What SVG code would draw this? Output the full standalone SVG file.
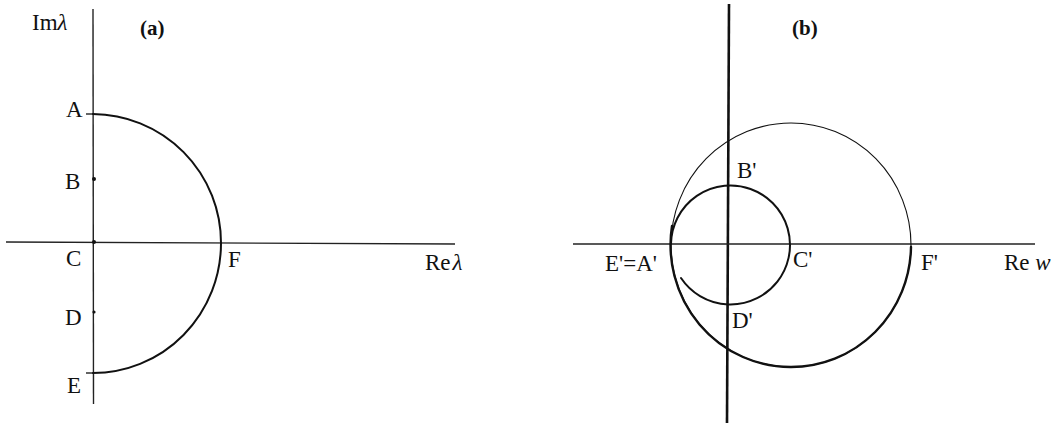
<svg xmlns="http://www.w3.org/2000/svg" width="1058" height="427" viewBox="0 0 1058 427">
<style>
.t{font-family:"Liberation Serif","Times New Roman",serif;font-size:23px;fill:#111}
.b{font-family:"Liberation Serif","Times New Roman",serif;font-size:21px;font-weight:bold;fill:#111}
.i{font-style:italic}
.ax{stroke:#222;stroke-width:1.4;fill:none}
.cv{stroke:#111;fill:none;stroke-linecap:round}
</style>
<rect width="1058" height="427" fill="#fff"/>
<g id="panel-a">
<g id="axes-a">
<line class="ax" x1="93" y1="9" x2="93.5" y2="404"/>
<line class="ax" x1="6" y1="242" x2="455" y2="244"/>
<line class="ax" x1="86" y1="114" x2="93" y2="114"/>
<line class="ax" x1="86" y1="373" x2="93" y2="373"/>
</g>
<g id="connectors-a">
<path class="cv" stroke-width="2" d="M93 114 A129 129 0 0 1 221 243 A128 130 0 0 1 93 373"/>
</g>
<g id="points-a" fill="#111">
<circle cx="94" cy="179" r="2"/>
<circle cx="94" cy="242" r="2"/>
<circle cx="94" cy="312" r="1.6"/>
</g>
<text class="t" x="32" y="30">Im<tspan class="i">λ</tspan></text>
<text class="b" x="140" y="35">(a)</text>
<g id="node-A"><text class="t" x="66" y="117">A</text></g>
<g id="node-B"><text class="t" x="65" y="189">B</text></g>
<g id="node-C"><text class="t" x="66" y="266">C</text></g>
<g id="node-D"><text class="t" x="65" y="325">D</text></g>
<g id="node-E"><text class="t" x="67" y="393">E</text></g>
<g id="node-F"><text class="t" x="228" y="267">F</text></g>
<text class="t" x="425" y="270">Re<tspan class="i" dx="2">λ</tspan></text>
</g>
<g id="panel-b">
<g id="axes-b">
<line stroke="#111" stroke-width="2.6" x1="729" y1="4" x2="727" y2="423"/>
<line class="ax" x1="573" y1="244" x2="1035" y2="244"/>
</g>
<g id="connectors-b">
<ellipse class="cv" stroke-width="1.1" cx="791" cy="245" rx="120" ry="122"/>
<path class="cv" stroke-width="2.4" d="M672 226 A120 122 0 0 0 791 367 A120 122 0 0 0 911 247"/>
<path class="cv" stroke-width="2" d="M681 278 A59.5 59.5 0 1 0 671 243.5"/>
</g>
<text class="b" x="792" y="35">(b)</text>
<g id="node-Bp"><text class="t" x="737" y="178">B'</text></g>
<g id="node-EAp"><text class="t" x="605" y="271">E'=A'</text></g>
<g id="node-Cp"><text class="t" x="793" y="267">C'</text></g>
<g id="node-Dp"><text class="t" x="732" y="328">D'</text></g>
<g id="node-Fp"><text class="t" x="921" y="270">F'</text></g>
<text class="t" x="1004" y="270">Re <tspan class="i">w</tspan></text>
</g>
</svg>
